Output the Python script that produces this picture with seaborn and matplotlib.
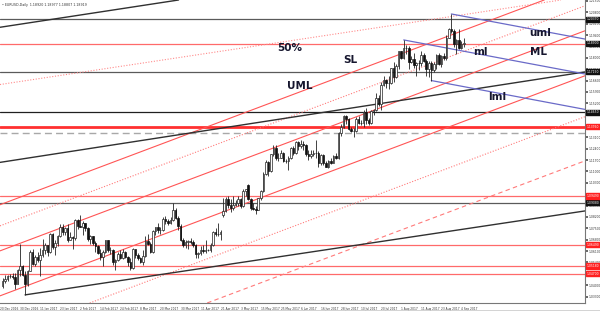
import numpy as np
import pandas as pd
import matplotlib
matplotlib.use("Agg")
import matplotlib.pyplot as plt
import seaborn as sns

# ---------------- data ----------------
dates = pd.bdate_range("2016-12-21", "2017-09-05")
opens = [1.0395,1.0425,1.0435,1.0455,1.0455,1.0450,1.0410,1.0495,
 1.0520,1.0460,1.0405,1.0490,1.0605,1.0530,1.0575,1.0555,1.0585,1.0615,1.0645,1.0605,1.0715,1.0635,1.0660,1.0700,1.0755,1.0730,1.0750,1.0680,1.0695,1.0690,
 1.0800,1.0765,1.0760,1.0785,1.0750,1.0685,1.0700,1.0660,1.0640,1.0600,1.0575,1.0605,1.0675,1.0615,1.0615,1.0540,1.0555,1.0590,1.0565,1.0605,
 1.0575,1.0545,1.0505,1.0620,1.0585,1.0565,1.0545,1.0580,1.0670,1.0655,1.0605,1.0735,1.0760,1.0740,1.0740,1.0810,1.0795,1.0785,1.0800,1.0865,1.0815,1.0765,1.0675,
 1.0650,1.0665,1.0670,1.0665,1.0645,1.0590,1.0600,1.0615,1.0610,1.0615,1.0615,1.0645,1.0730,1.0715,1.0715,1.0835,1.0855,1.0930,1.0895,1.0875,
 1.0895,1.0905,1.0930,1.0885,1.0980,1.1015,1.0930,1.0875,1.0870,1.0865,1.0935,1.0980,1.1085,1.1160,1.1100,1.1205,1.1245,1.1180,1.1185,1.1215,1.1165,1.1165,1.1185,
 1.1245,1.1215,1.1280,1.1255,1.1270,1.1260,1.1210,1.1195,1.1210,1.1215,1.1215,1.1150,1.1200,1.1150,1.1130,1.1165,1.1150,1.1195,1.1180,1.1335,1.1375,1.1440,
 1.1425,1.1360,1.1350,1.1350,1.1425,1.1400,1.1400,1.1465,1.1415,1.1400,1.1470,1.1480,1.1555,1.1515,1.1630,1.1665,1.1645,1.1645,1.1735,1.1680,1.1750,
 1.1840,1.1800,1.1860,1.1860,1.1775,1.1795,1.1755,1.1770,1.1765,1.1820,1.1780,1.1730,1.1770,1.1725,1.1760,1.1815,1.1760,1.1810,1.1800,1.1925,1.1975,1.1965,1.1885,
 1.1910,1.1860,1.1885]
highs = [1.0445,1.0460,1.0465,1.0470,1.0475,1.0475,1.0500,1.0655,
 1.0525,1.0485,1.0495,1.0615,1.0620,1.0585,1.0605,1.0630,1.0685,1.0660,1.0650,1.0720,1.0720,1.0680,1.0710,1.0775,1.0775,1.0755,1.0775,1.0725,1.0700,1.0810,
 1.0810,1.0830,1.0795,1.0785,1.0755,1.0710,1.0705,1.0670,1.0645,1.0620,1.0615,1.0680,1.0680,1.0635,1.0620,1.0560,1.0605,1.0615,1.0620,1.0610,
 1.0580,1.0565,1.0630,1.0625,1.0600,1.0575,1.0615,1.0700,1.0715,1.0665,1.0740,1.0760,1.0780,1.0760,1.0820,1.0825,1.0805,1.0820,1.0905,1.0875,1.0825,1.0775,1.0690,
 1.0680,1.0675,1.0690,1.0680,1.0655,1.0605,1.0640,1.0645,1.0675,1.0625,1.0660,1.0735,1.0750,1.0780,1.0740,1.0935,1.0945,1.0950,1.0930,1.0950,
 1.0925,1.0950,1.0935,1.0990,1.0995,1.1025,1.0935,1.0905,1.0890,1.0935,1.0985,1.1095,1.1170,1.1165,1.1210,1.1265,1.1265,1.1215,1.1230,1.1220,1.1175,1.1195,1.1250,
 1.1255,1.1285,1.1285,1.1295,1.1285,1.1270,1.1230,1.1235,1.1230,1.1295,1.1225,1.1210,1.1210,1.1165,1.1170,1.1180,1.1200,1.1215,1.1345,1.1390,1.1445,
 1.1445,1.1430,1.1375,1.1370,1.1435,1.1440,1.1415,1.1480,1.1490,1.1430,1.1480,1.1485,1.1585,1.1570,1.1650,1.1685,1.1670,1.1685,1.1740,1.1775,1.1760,
 1.1845,1.1845,1.1910,1.1880,1.1870,1.1810,1.1830,1.1775,1.1785,1.1845,1.1830,1.1790,1.1780,1.1780,1.1775,1.1825,1.1830,1.1820,1.1830,1.1940,1.1985,1.2070,1.1980,
 1.1915,1.1980,1.1905,1.1925]
lows = [1.0380,1.0415,1.0425,1.0445,1.0435,1.0375,1.0405,1.0455,
 1.0455,1.0340,1.0395,1.0485,1.0525,1.0515,1.0545,1.0455,1.0575,1.0590,1.0580,1.0600,1.0625,1.0585,1.0640,1.0695,1.0710,1.0710,1.0665,1.0675,1.0620,1.0680,
 1.0745,1.0755,1.0710,1.0735,1.0670,1.0655,1.0650,1.0605,1.0590,1.0555,1.0520,1.0600,1.0605,1.0590,1.0525,1.0495,1.0550,1.0560,1.0560,1.0570,
 1.0515,1.0495,1.0500,1.0565,1.0555,1.0535,1.0525,1.0575,1.0645,1.0600,1.0595,1.0710,1.0720,1.0715,1.0735,1.0775,1.0770,1.0775,1.0795,1.0810,1.0740,1.0670,1.0635,
 1.0630,1.0625,1.0655,1.0635,1.0570,1.0570,1.0585,1.0595,1.0600,1.0610,1.0605,1.0640,1.0700,1.0700,1.0680,1.0820,1.0850,1.0875,1.0850,1.0865,
 1.0885,1.0890,1.0875,1.0880,1.0950,1.0925,1.0865,1.0865,1.0840,1.0860,1.0925,1.0975,1.1080,1.1075,1.1095,1.1195,1.1170,1.1165,1.1180,1.1160,1.1150,1.1110,1.1175,
 1.1200,1.1205,1.1235,1.1245,1.1235,1.1195,1.1170,1.1185,1.1195,1.1185,1.1130,1.1140,1.1140,1.1130,1.1120,1.1145,1.1150,1.1175,1.1175,1.1320,1.1370,
 1.1390,1.1355,1.1345,1.1315,1.1345,1.1390,1.1385,1.1375,1.1390,1.1385,1.1395,1.1445,1.1475,1.1505,1.1480,1.1625,1.1615,1.1610,1.1640,1.1650,1.1675,
 1.1730,1.1790,1.1795,1.1825,1.1730,1.1770,1.1740,1.1690,1.1725,1.1750,1.1775,1.1690,1.1680,1.1660,1.1715,1.1730,1.1755,1.1745,1.1785,1.1785,1.1925,1.1955,1.1865,
 1.1825,1.1855,1.1855,1.1865]
closes = [1.0425,1.0435,1.0455,1.0455,1.0450,1.0410,1.0495,1.0520,
 1.0460,1.0405,1.0490,1.0605,1.0530,1.0575,1.0555,1.0585,1.0615,1.0645,1.0605,1.0715,1.0635,1.0660,1.0700,1.0755,1.0730,1.0750,1.0680,1.0695,1.0690,1.0800,
 1.0765,1.0760,1.0785,1.0750,1.0685,1.0700,1.0660,1.0640,1.0600,1.0575,1.0605,1.0675,1.0615,1.0615,1.0540,1.0555,1.0590,1.0565,1.0605,1.0575,
 1.0545,1.0505,1.0620,1.0585,1.0565,1.0545,1.0580,1.0670,1.0655,1.0605,1.0735,1.0760,1.0740,1.0740,1.0810,1.0795,1.0785,1.0800,1.0865,1.0815,1.0765,1.0675,1.0650,
 1.0665,1.0670,1.0665,1.0645,1.0590,1.0600,1.0615,1.0610,1.0615,1.0615,1.0645,1.0730,1.0715,1.0715,1.0725,1.0855,1.0930,1.0895,1.0875,1.0895,
 1.0905,1.0930,1.0885,1.0980,1.0995,1.0930,1.0875,1.0870,1.0865,1.0935,1.0980,1.1085,1.1160,1.1100,1.1205,1.1245,1.1180,1.1185,1.1215,1.1165,1.1165,1.1185,1.1245,
 1.1215,1.1280,1.1255,1.1270,1.1260,1.1210,1.1195,1.1210,1.1215,1.1215,1.1150,1.1200,1.1150,1.1130,1.1165,1.1150,1.1195,1.1180,1.1335,1.1375,1.1440,1.1425,
 1.1360,1.1350,1.1350,1.1425,1.1400,1.1400,1.1465,1.1415,1.1400,1.1470,1.1480,1.1555,1.1515,1.1630,1.1665,1.1645,1.1645,1.1735,1.1680,1.1750,1.1840,
 1.1800,1.1860,1.1860,1.1775,1.1795,1.1755,1.1770,1.1765,1.1820,1.1780,1.1730,1.1770,1.1725,1.1760,1.1815,1.1760,1.1810,1.1800,1.1925,1.1975,1.1965,1.1885,1.1910,
 1.1860,1.1885,1.1890]

y_ticks = [1.2150, 1.2080, 1.2010, 1.1940, 1.1870, 1.1800, 1.1730, 1.1660, 1.1590, 1.1520,
           1.1450, 1.1380, 1.1310, 1.1240, 1.1170, 1.1100, 1.1030, 1.0960, 1.0890, 1.0820,
           1.0750, 1.0680, 1.0610, 1.0540, 1.0470, 1.0400, 1.0330]

levels_red = [1.1885, 1.0949, 1.0649, 1.0518, 1.0470]
levels_grey = [1.2037, 1.1715, 1.0908]
level_black = 1.1465
level_thick_red = 1.1376
level_dash = 1.1337
boxes_black = [1.2037, 1.1715, 1.1465, 1.0908, 1.1890]
boxes_red = [1.1376, 1.0949, 1.0649, 1.0518, 1.0470]

# red channel lines: price at the left edge, common slope per bar
red_slope = 0.000581
red_solid_start = [1.0900, 1.0616, 1.0339]
red_dotted_start = [1.0770, 1.0087]
red_dashed_start = [0.9815]
gentle_dotted = [((138.9, 1.1961), (218.4, 1.2146))]

# chart annotations: (text, bar index, price)
annotations = [("uml", 214.4, 1.1953), ("ml", 190.5, 1.1836), ("ML", 213.6, 1.1836),
               ("lml", 197.3, 1.1559), ("50%", 114.7, 1.1861), ("SL", 138.9, 1.1787),
               ("UML", 118.6, 1.1626)]

n = len(opens)
assert n == len(highs) == len(lows) == len(closes) == len(dates)

sns.set_theme(style="white")
plt.rcParams['font.family'] = ['DejaVu Sans']

fig = plt.figure(figsize=(6.0, 3.13), dpi=100)
ax = fig.add_axes([0.0, 10/313, 585/600, 303/313])
ax.set_facecolor("white")

idx = np.arange(n)
o = np.array(opens); h = np.array(highs); l = np.array(lows); c = np.array(closes)
df = pd.DataFrame({"i": idx, "o": o, "h": h, "l": l, "c": c})

XMIN, XMAX = -0.15, 232.3
YMIN, YMAX = 1.0290, 1.2156

for p in levels_red:
    ax.axhline(p, color="#ff6a6a", lw=0.9, zorder=1)
for p in levels_grey:
    ax.axhline(p, color="#5a5a5a", lw=0.9, zorder=1)
ax.axhline(level_black, color="#202020", lw=0.9, zorder=1)
ax.axhline(level_thick_red, color="#ff3030", lw=2.0, zorder=1)
ax.axhline(level_dash, color="#a8a8a8", lw=1.0, ls=(0, (5, 3)), zorder=1)

for p0 in red_solid_start:
    ax.axline((XMIN, p0), slope=red_slope, color="#ff5555", lw=0.8, zorder=1)
for p0 in red_dotted_start:
    ax.axline((XMIN, p0), slope=red_slope, color="#ff7a7a", lw=0.8, ls=(0, (1, 1.5)), zorder=1)
for p0 in red_dashed_start:
    ax.axline((XMIN, p0), slope=red_slope, color="#ff7a7a", lw=0.8, ls=(0, (4, 3)), zorder=1)
for a, b in gentle_dotted:
    ax.axline(a, b, color="#ff8a8a", lw=0.8, ls=(0, (1, 1.5)), zorder=1)

ax.axline((-0.15, 1.1990), (70.2, 1.2156), color="#303030", lw=1.0, zorder=1)
ax.axline((-0.15, 1.1158), (232.3, 1.1713), color="#303030", lw=1.0, zorder=1)
ax.plot([9, 240], [1.0340, 1.0340 + (1.0857 - 1.0340) / (232.3 - 9) * 231], color="#303030", lw=1.0, zorder=1)

bslope = -0.00029
for (x0, p0) in [(179, 1.2070), (160, 1.1910), (171, 1.1660)]:
    ax.plot([x0, 240], [p0, p0 + bslope * (240 - x0)], color="#6a6ac8", lw=0.9, zorder=1)

up = c >= o
ax.vlines(df["i"], df["l"], df["h"], color="#222222", lw=0.6, zorder=3)
bw = 0.62
ax.bar(idx[up], (c - o)[up], bottom=o[up], width=bw, color="white", edgecolor="#222222", lw=0.5, zorder=4)
ax.bar(idx[~up], (o - c)[~up], bottom=c[~up], width=bw, color="#111111", edgecolor="#111111", lw=0.5, zorder=4)

for txt, xi, p in annotations:
    ax.text(xi, p, txt, fontsize=7.5, fontweight="bold", color="#16162e", ha="center", va="center", zorder=6)

ax.set_xlim(XMIN, XMAX)
ax.set_ylim(YMIN, YMAX)

tick_idx = list(range(183, -9, -8))[::-1]
def lab(i):
    d = dates[i] if i >= 0 else dates[0] - pd.offsets.BDay(-i)
    return f"{d.day} {d.strftime('%b %Y')}"
ax.set_xticks(tick_idx)
ax.set_xticklabels([lab(i) for i in tick_idx], fontsize=2.1, color="#333333", ha="left")
ax.tick_params(axis="x", length=2, pad=0.8, color="#555555")

ax.yaxis.tick_right()
ax.set_yticks(y_ticks)
ax.set_yticklabels([f"{v:.5f}" for v in y_ticks], fontsize=2.2, color="#333333")
ax.tick_params(axis="y", length=2, pad=0.5, color="#555555")
for s in ax.spines.values():
    s.set_color("#777777"); s.set_linewidth(0.8)
ax.spines["left"].set_visible(False)
ax.spines["top"].set_visible(False)

def box(p, fc):
    ax.text(1.0035, (p - YMIN) / (YMAX - YMIN), f"{p:.5f}", transform=ax.transAxes, fontsize=2.2,
            color="white", va="center", ha="left",
            bbox=dict(boxstyle="square,pad=0.2", fc=fc, ec=fc), clip_on=False, zorder=7)
for p in boxes_black:
    box(p, "#111111")
for p in boxes_red:
    box(p, "#ff2020")

ax.text(0.004, 0.99, "\u2022 EURUSD,Daily  1.18920 1.18977 1.18807 1.18919", transform=ax.transAxes,
        fontsize=2.3, color="#333333", va="top", ha="left")

fig.add_artist(plt.Line2D([0, 1], [3/313, 3/313], color="#cccccc", lw=0.6))

fig.savefig("out.png", dpi=100, facecolor="white")
